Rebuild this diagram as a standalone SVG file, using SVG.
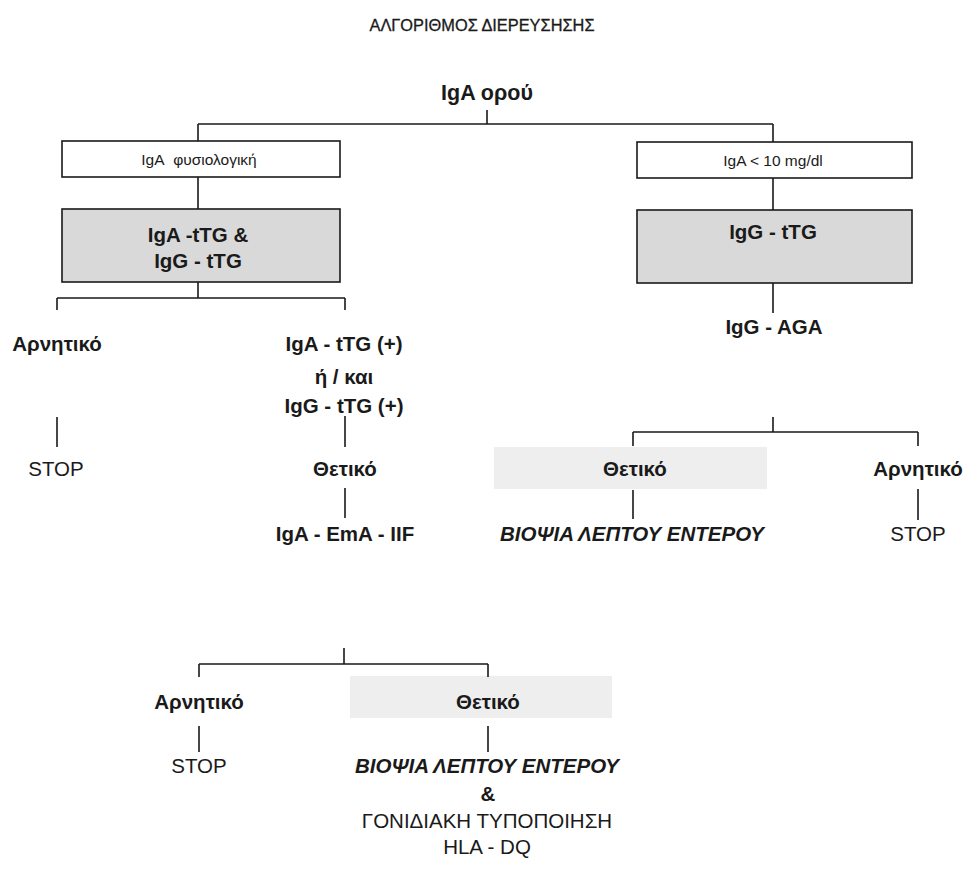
<svg xmlns="http://www.w3.org/2000/svg" width="966" height="871" viewBox="0 0 966 871">
<style>
.ln{stroke:#1a1a1a;stroke-width:1.6;fill:none}
.box{fill:#ffffff;stroke:#1a1a1a;stroke-width:1.6}
.gbox{fill:#d9d9d9;stroke:#1a1a1a;stroke-width:1.6}
.band{fill:#eeeeee}
text{font-family:"Liberation Sans",Arial,sans-serif;fill:#1a1a1a;text-anchor:middle}
.b{font-weight:bold;font-size:20.5px}
.n{font-size:20.5px}
.s{font-size:15.5px}
.bi{font-weight:bold;font-style:italic;font-size:20.5px}
.t{font-size:16px;stroke:#1a1a1a;stroke-width:0.3}
</style>
<rect width="966" height="871" fill="#ffffff"/>
<text class="t" x="482" y="31" textLength="225" lengthAdjust="spacingAndGlyphs">ΑΛΓΟΡΙΘΜΟΣ ΔΙΕΡΕΥΣΗΣΗΣ</text>
<g id="bands">
<rect class="band" x="494" y="447" width="273" height="42"/>
<rect class="band" x="350" y="676" width="262" height="42"/>
</g>
<g id="connectors">
<path class="ln" d="M487 110V124M198 124H773M198 124V141M773 124V142"/>
<path class="ln" d="M198 177V209M198 282V298M57 298H345M57 298V310M345 298V310"/>
<path class="ln" d="M773 178V210M773 283V313"/>
<path class="ln" d="M57 417V447M345 416V447M345 488V518"/>
<path class="ln" d="M773 417V432M633 432H918M633 432V446M918 432V446M633 490V519M918 489V520"/>
<path class="ln" d="M344 648V664M199 664H488M199 664V677M488 664V677M199 726V752M488 726V752"/>
</g>
<g id="n-igaserum"><text class="b" x="487" y="100" style="font-size:21.5px">IgA ορού</text></g>
<g id="n-iganormal"><rect class="box" x="62" y="141" width="278" height="36"/><text class="s" x="199" y="165">IgA&#160;&#160;φυσιολογική</text></g>
<g id="n-igalow"><rect class="box" x="637" y="142" width="275" height="36"/><text class="s" x="773" y="166">IgA &lt; 10 mg/dl</text></g>
<g id="n-ttgboth"><rect class="gbox" x="62" y="209" width="278" height="73"/><text class="b" x="198" y="242">IgA -tTG &amp;</text><text class="b" x="198" y="268">IgG - tTG</text></g>
<g id="n-iggttg"><rect class="gbox" x="637" y="210" width="275" height="73"/><text class="b" x="773" y="239">IgG - tTG</text></g>
<g id="n-neg1"><text class="b" x="57" y="351">Αρνητικό</text></g>
<g id="n-pos-ttg"><text class="b" x="344" y="351">IgA - tTG (+)</text><text class="b" x="344" y="384">ή / και</text><text class="b" x="344" y="413">IgG - tTG (+)</text></g>
<g id="n-stop1"><text class="n" x="56" y="476">STOP</text></g>
<g id="n-pos1"><text class="b" x="345" y="476">Θετικό</text></g>
<g id="n-ema"><text class="b" x="345" y="541">IgA - EmA - IIF</text></g>
<g id="n-iggaga"><text class="b" x="774" y="334">IgG - AGA</text></g>
<g id="n-pos2"><text class="b" x="635" y="476">Θετικό</text></g>
<g id="n-neg2"><text class="b" x="918" y="476">Αρνητικό</text></g>
<g id="n-biopsy1"><text class="bi" x="632" y="541">ΒΙΟΨΙΑ ΛΕΠΤΟΥ ΕΝΤΕΡΟΥ</text></g>
<g id="n-stop2"><text class="n" x="918" y="541">STOP</text></g>
<g id="n-neg3"><text class="b" x="199" y="709">Αρνητικό</text></g>
<g id="n-pos3"><text class="b" x="488" y="709">Θετικό</text></g>
<g id="n-stop3"><text class="n" x="199" y="773">STOP</text></g>
<g id="n-biopsy2"><text class="bi" x="487" y="773">ΒΙΟΨΙΑ ΛΕΠΤΟΥ ΕΝΤΕΡΟΥ</text><text class="b" x="488" y="801">&amp;</text><text class="n" x="487" y="828">ΓΟΝΙΔΙΑΚΗ ΤΥΠΟΠΟΙΗΣΗ</text><text class="n" x="487" y="854">HLA - DQ</text></g>
</svg>
